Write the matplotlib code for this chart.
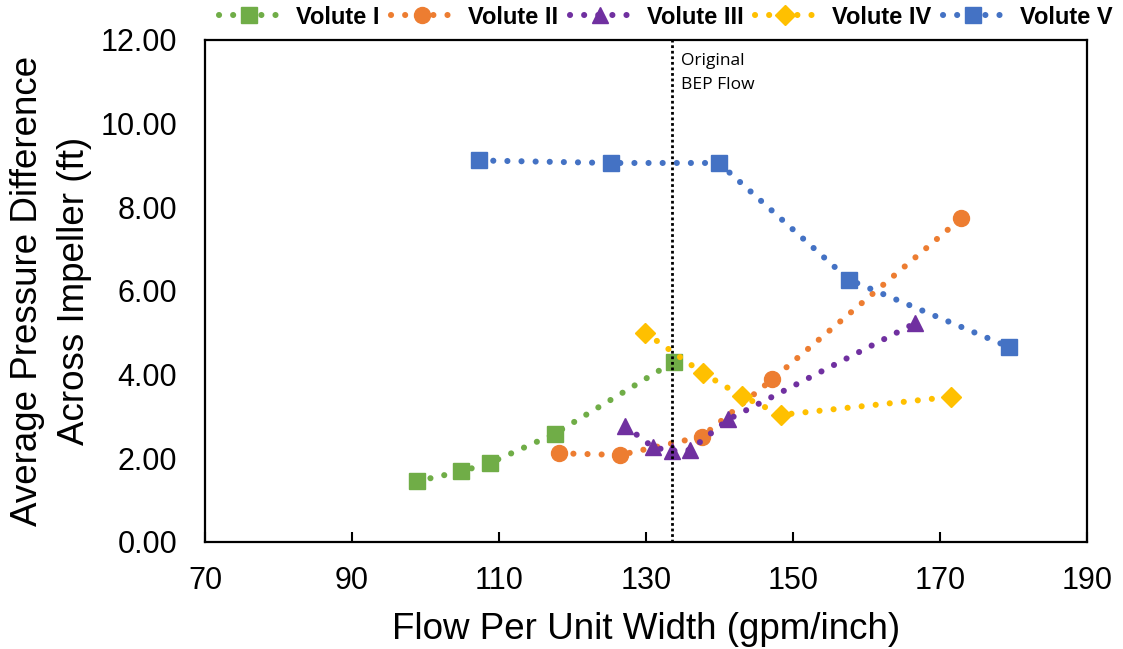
import numpy as np
import matplotlib.pyplot as plt

plt.rcParams['font.family'] = ['Liberation Sans', 'DejaVu Sans']

# data
v1_x = [98.8, 104.9, 108.8, 117.6, 133.8]
v1_y = [1.45, 1.69, 1.89, 2.59, 4.31]
v2_x = [118.2, 126.5, 137.6, 147.2, 172.9]
v2_y = [2.12, 2.08, 2.52, 3.89, 7.74]
v3_x = [127.2, 131.0, 133.5, 136.0, 141.2, 166.6]
v3_y = [2.77, 2.26, 2.18, 2.20, 2.93, 5.23]
v4_x = [129.9, 137.8, 143.0, 148.4, 171.5]
v4_y = [5.00, 4.03, 3.49, 3.04, 3.47]
v5_x = [107.3, 125.2, 139.9, 157.6, 179.4]
v5_y = [9.12, 9.06, 9.06, 6.27, 4.66]
bep_flow = 133.5

series = [
    ("Volute I", v1_x, v1_y, "#70AD47", "s"),
    ("Volute II", v2_x, v2_y, "#ED7D31", "o"),
    ("Volute III", v3_x, v3_y, "#7030A0", "^"),
    ("Volute IV", v4_x, v4_y, "#FFC000", "D"),
    ("Volute V", v5_x, v5_y, "#4472C4", "s"),
]

fig = plt.figure(figsize=(11.23, 6.49), dpi=100)
ax = fig.add_axes([0.1825, 0.1649, 0.7855, 0.7735])

for name, x, y, c, m in series:
    ms = 10 if m == "D" else 11.5
    ax.plot(x, y, color=c, linestyle=(0, (0.01, 2.3)), linewidth=4.4,
            dash_capstyle='round', marker=m, markersize=ms, label=name)

ax.axvline(bep_flow, color="black", linestyle=(0, (1, 1)), linewidth=2)
ax.text(bep_flow + 1.2, 11.68, "Original\nBEP Flow", family=["Open Sans", "DejaVu Sans"],
        fontsize=12.5, va="top", ha="left", linespacing=1.6)

ax.set_xlim(70, 190)
ax.set_ylim(0, 12)
ax.set_xticks(np.arange(70, 191, 20))
ax.set_yticks(np.arange(0, 12.1, 2))
ax.set_yticklabels(["%.2f" % v for v in np.arange(0, 12.1, 2)])
ax.tick_params(axis="x", direction="in", length=7, width=1.5, labelsize=22, pad=17)
ax.tick_params(axis="y", length=0, labelsize=22, pad=20)
for s in ax.spines.values():
    s.set_linewidth(1.6)

ax.set_xlabel("Flow Per Unit Width (gpm/inch)", fontsize=26.5, labelpad=12)
ax.set_ylabel("Average Pressure Difference\nAcross Impeller (ft)", fontsize=26.5,
              labelpad=6, linespacing=1.45)

leg = fig.legend(loc="center", bbox_to_anchor=(0.593, 1 - 17 / 649), ncol=5, frameon=False,
                 prop={"weight": "bold", "size": 17}, handlelength=2.55, columnspacing=0.5,
                 handletextpad=0.7)

fig.savefig("out.png", dpi=100)
